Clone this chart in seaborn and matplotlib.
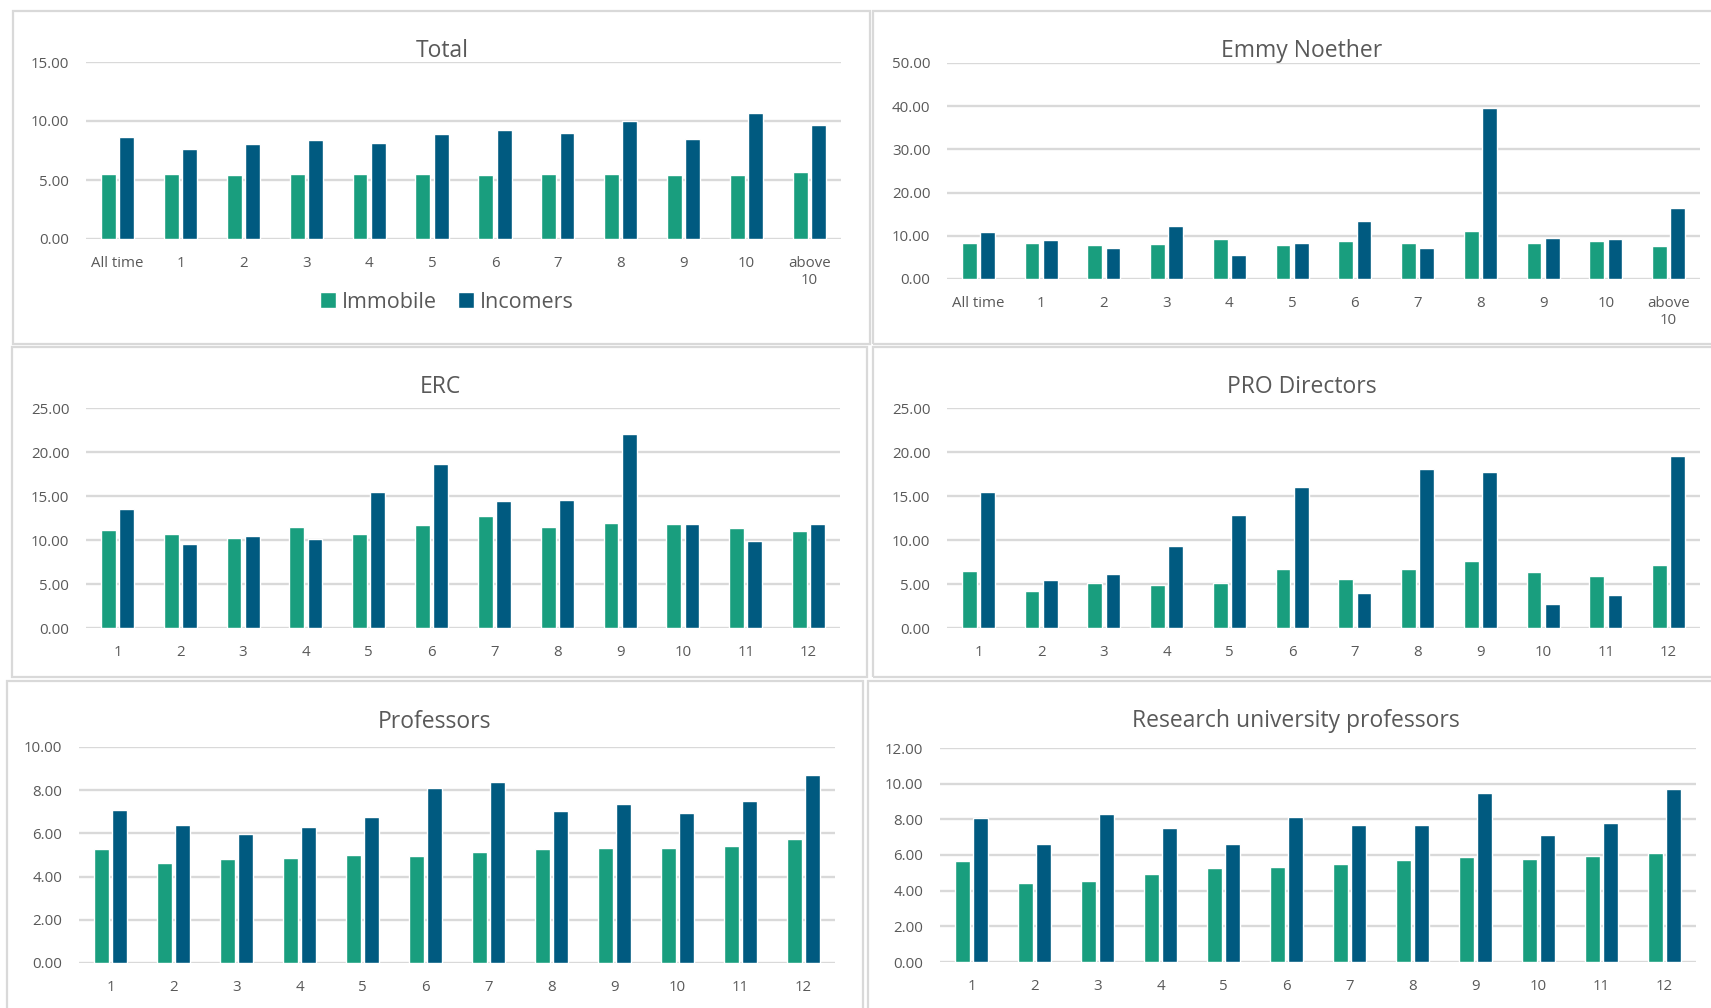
import matplotlib
matplotlib.use("Agg")
import matplotlib.pyplot as plt
from matplotlib.patches import Patch, Rectangle
import pandas as pd
import seaborn as sns

W, H = 1711, 1008
GREEN = "#199E7E"
BLUE = "#005A80"
GRID = "#D9D9D9"
TEXT = "#595959"

series = ["Immobile", "Incomers"]
cats_long = ["All time", "1", "2", "3", "4", "5", "6", "7", "8", "9", "10", "above\n10"]
cats_num = [str(i) for i in range(1, 13)]

total_immobile = [5.51, 5.51, 5.42, 5.51, 5.48, 5.54, 5.45, 5.54, 5.48, 5.40, 5.45, 5.65]
total_incomers = [8.67, 7.60, 8.08, 8.42, 8.11, 8.93, 9.24, 9.01, 9.97, 8.47, 10.65, 9.69]

noether_immobile = [8.29, 8.29, 7.83, 8.06, 9.30, 7.98, 8.84, 8.22, 11.00, 8.22, 8.84, 7.75]
noether_incomers = [10.78, 8.99, 7.13, 12.25, 5.66, 8.37, 13.41, 7.29, 39.53, 9.46, 9.15, 16.43]

erc_immobile = [11.10, 10.64, 10.19, 11.52, 10.64, 11.74, 12.69, 11.52, 11.97, 11.86, 11.36, 11.02]
erc_incomers = [13.48, 9.51, 10.42, 10.08, 15.42, 18.67, 14.39, 14.51, 22.05, 11.86, 9.89, 11.82]

pro_immobile = [6.44, 4.24, 5.15, 4.92, 5.08, 6.70, 5.53, 6.74, 7.58, 6.36, 5.95, 7.20]
pro_incomers = [15.49, 5.42, 6.17, 9.28, 12.88, 16.06, 3.94, 18.07, 17.69, 2.77, 3.71, 19.55]

prof_immobile = [5.26, 4.62, 4.82, 4.88, 5.02, 4.95, 5.14, 5.28, 5.31, 5.34, 5.42, 5.72]
prof_incomers = [7.09, 6.40, 5.98, 6.29, 6.74, 8.08, 8.38, 7.06, 7.34, 6.94, 7.48, 8.69]

rup_immobile = [5.66, 4.45, 4.56, 4.93, 5.25, 5.33, 5.51, 5.72, 5.91, 5.79, 5.93, 6.13]
rup_incomers = [8.07, 6.64, 8.28, 7.50, 6.64, 8.15, 7.66, 7.66, 9.48, 7.14, 7.79, 9.70]

sns.set_theme(style="white")
plt.rcParams["font.family"] = ["Open Sans", "DejaVu Sans"]

fig = plt.figure(figsize=(W / 100, H / 100), dpi=100)


def box(x0, y0, x1, y1):
    fig.add_artist(Rectangle((x0 / W, 1 - y1 / H), (x1 - x0) / W, (y1 - y0) / H,
                             transform=fig.transFigure, fill=False, ec=GRID, lw=1.6))


def panel(title, cats, immobile, incomers, ax_px, ymax, step, title_xy):
    x0, y0, x1, y1 = ax_px
    ax = fig.add_axes([x0 / W, 1 - y1 / H, (x1 - x0) / W, (y1 - y0) / H])
    df = pd.DataFrame({
        "cat": cats * 2,
        "value": immobile + incomers,
        "series": [series[0]] * len(cats) + [series[1]] * len(cats),
    })
    sns.barplot(data=df, x="cat", y="value", hue="series", order=cats,
                hue_order=series, palette=[GREEN, BLUE], saturation=1,
                width=0.58, gap=0.18, legend=False, ax=ax)
    ax.set_xlim(-0.5, len(cats) - 0.5)
    ax.set_ylim(0, ymax)
    ticks = [i * step for i in range(int(round(ymax / step)) + 1)]
    ax.set_yticks(ticks)
    ax.set_yticklabels([f"{t:.2f}" for t in ticks])
    ax.yaxis.grid(True, color=GRID, lw=1.7)
    ax.set_axisbelow(True)
    for s in ax.spines.values():
        s.set_visible(False)
    ax.set_xlabel("")
    ax.set_ylabel("")
    ax.tick_params(axis="y", length=0, pad=12, labelsize=10.8, labelcolor=TEXT)
    ax.tick_params(axis="x", length=0, pad=12, labelsize=10.8, labelcolor=TEXT)
    fig.text(title_xy[0] / W, 1 - title_xy[1] / H, title, ha="center", va="baseline",
             fontsize=16.5, color=TEXT)
    return ax


box(13, 11, 870, 344)
box(873, 11, 1716, 344)
box(12, 347, 867, 677)
box(873, 347, 1716, 677)
box(7, 681, 863, 1015)
box(868, 681, 1716, 1015)

panel("Total", cats_long, total_immobile, total_incomers,
      (86, 62, 841, 239), 15, 5, (442, 57))
panel("Emmy Noether", cats_long, noether_immobile, noether_incomers,
      (947, 63, 1700, 279), 50, 10, (1302, 57))
panel("ERC", cats_num, erc_immobile, erc_incomers,
      (86, 408, 840, 628), 25, 5, (440, 393))
panel("PRO Directors", cats_num, pro_immobile, pro_incomers,
      (947, 408, 1700, 628), 25, 5, (1302, 393))
panel("Professors", cats_num, prof_immobile, prof_incomers,
      (79, 747, 835, 963), 10, 2, (434, 728))
panel("Research university professors", cats_num, rup_immobile, rup_incomers,
      (940, 748, 1696, 962), 12, 2, (1296, 727))

handles = [Patch(facecolor=GREEN, label=series[0]), Patch(facecolor=BLUE, label=series[1])]
fig.legend(handles=handles, loc="center", bbox_to_anchor=(447 / W, 1 - 302 / H),
           ncol=2, frameon=False, fontsize=15.5, handlelength=0.75, handleheight=0.75,
           handletextpad=0.25, columnspacing=1.0, labelcolor=TEXT)

fig.savefig("out.png", dpi=100)
